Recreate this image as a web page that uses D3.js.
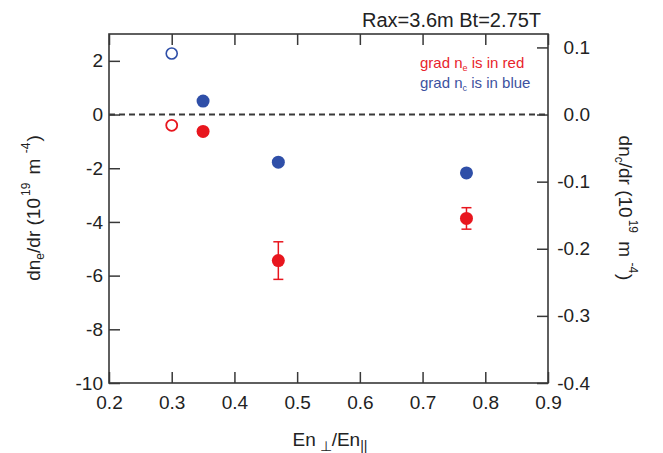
<!DOCTYPE html>
<html>
<head>
    <meta charset='utf-8'>
    <title> Density gradient vs En ratio </title>
    <script src='https://d3js.org/d3.v7.min.js'></script>
    <style>
      body { margin: 0; background: #fff; }
      text { font-family: "Liberation Sans", Arial, sans-serif; }
    </style>
</head>
<body>

<div id="container"></div>

<script>

const width = 663,
      height = 453,
      margin = {
          top: 34,
          bottom: 70,
          left: 109,
          right: 115,
      };

// x = En_perp / En_par
var enRatio = [0.30, 0.35, 0.47, 0.77];

// grad ne (left axis, 10^19 m^-4)
var gradNe = [-0.40, -0.63, -5.44, -3.87];
var gradNeErr = [0, 0.12, 0.70, 0.40];
var neOpen = [true, false, false, false];

// grad nc (right axis, 10^19 m^-4)
var gradNc = [0.091, 0.020, -0.071, -0.087];
var ncOpen = [true, false, false, false];

var xTicks = [0.2, 0.3, 0.4, 0.5, 0.6, 0.7, 0.8, 0.9];
var leftTicks = [-10, -8, -6, -4, -2, 0, 2];
var rightTicks = [-0.4, -0.3, -0.2, -0.1, 0.0, 0.1];

const red = "#e8161e",
      blue = "#2f4fa8",
      ink = "#383838";

var svg = d3.select("#container")
  .append("svg")
  .attr("width", width)
  .attr("height", height)
  .style("display", "block");

var x = d3.scaleLinear()
  .domain([0.2, 0.9])
  .range([margin.left, width - margin.right]);

var yL = d3.scaleLinear()
  .domain([-10, 3])
  .range([height - margin.bottom, margin.top]);

var yR = d3.scaleLinear()
  .domain([-0.4, 0.12])
  .range([height - margin.bottom, margin.top]);

function hyphen(fmt) {
  return function(d) { return d3.format(fmt)(d).replace("\u2212", "-"); };
}

// bottom axis, ticks inside
var gx = svg.append("g")
  .attr("transform", `translate(0, ${height - margin.bottom})`)
  .call(d3.axisBottom(x).tickValues(xTicks).tickSize(-11).tickPadding(13).tickFormat(hyphen(".1f")));

// top mirror ticks
var gt = svg.append("g")
  .attr("transform", `translate(0, ${margin.top})`)
  .call(d3.axisTop(x).tickValues(xTicks).tickSize(-11).tickFormat(""));

var gl = svg.append("g")
  .attr("transform", `translate(${margin.left}, 0)`)
  .call(d3.axisLeft(yL).tickValues(leftTicks).tickSize(-11).tickPadding(6).tickFormat(hyphen("d")));

var gr = svg.append("g")
  .attr("transform", `translate(${width - margin.right}, 0)`)
  .call(d3.axisRight(yR).tickValues(rightTicks).tickSize(-11).tickFormat(hyphen(".1f")));

gr.selectAll(".tick text")
  .attr("text-anchor", "end")
  .attr("x", 42);

[gx, gt, gl, gr].forEach(function(g) {
  g.select(".domain").remove();
  g.selectAll(".tick line").attr("stroke", ink).attr("stroke-width", 1.5);
  g.selectAll(".tick text")
    .attr("fill", "#222")
    .style("font-size", "19px")
    .style("font-family", "'Liberation Sans', Arial, sans-serif");
});

// frame
svg.append("rect")
  .attr("x", margin.left)
  .attr("y", margin.top)
  .attr("width", width - margin.left - margin.right)
  .attr("height", height - margin.top - margin.bottom)
  .attr("fill", "none")
  .attr("stroke", ink)
  .attr("stroke-width", 1.6);

// zero line
svg.append("line")
  .attr("x1", margin.left)
  .attr("x2", width - margin.right)
  .attr("y1", yL(0))
  .attr("y2", yL(0))
  .attr("stroke", ink)
  .attr("stroke-width", 2)
  .attr("stroke-dasharray", "6,4");

// ne error bars
var neData = enRatio.map(function(v, i) {
  return {x: v, y: gradNe[i], e: gradNeErr[i], open: neOpen[i]};
});

var eb = svg.selectAll(".err")
  .data(neData.filter(function(d) { return d.e > 0; }))
  .enter()
  .append("g")
  .attr("stroke", red)
  .attr("stroke-width", 1.5);

eb.append("line")
  .attr("x1", function(d) { return x(d.x); })
  .attr("x2", function(d) { return x(d.x); })
  .attr("y1", function(d) { return yL(d.y + d.e); })
  .attr("y2", function(d) { return yL(d.y - d.e); });

[1, -1].forEach(function(s) {
  eb.append("line")
    .attr("x1", function(d) { return x(d.x) - 5; })
    .attr("x2", function(d) { return x(d.x) + 5; })
    .attr("y1", function(d) { return yL(d.y + s * d.e); })
    .attr("y2", function(d) { return yL(d.y + s * d.e); });
});

svg.selectAll(".ne")
  .data(neData)
  .enter()
  .append("circle")
  .attr("cx", function(d) { return x(d.x); })
  .attr("cy", function(d) { return yL(d.y); })
  .attr("r", function(d) { return d.open ? 5.5 : 6.5; })
  .attr("fill", function(d) { return d.open ? "#fff" : red; })
  .attr("stroke", red)
  .attr("stroke-width", function(d) { return d.open ? 1.8 : 0; });

var ncData = enRatio.map(function(v, i) {
  return {x: v, y: gradNc[i], open: ncOpen[i]};
});

svg.selectAll(".nc")
  .data(ncData)
  .enter()
  .append("circle")
  .attr("cx", function(d) { return x(d.x); })
  .attr("cy", function(d) { return yR(d.y); })
  .attr("r", function(d) { return d.open ? 5.5 : 6.5; })
  .attr("fill", function(d) { return d.open ? "#fff" : blue; })
  .attr("stroke", blue)
  .attr("stroke-width", function(d) { return d.open ? 1.6 : 0; });

// title
svg.append("text")
  .attr("x", width - margin.right - 7)
  .attr("y", 27)
  .attr("text-anchor", "end")
  .style("font-size", "20px")
  .attr("fill", "#222")
  .text("Rax=3.6m Bt=2.75T");

// legend
function legendLine(y, sub, word, color) {
  var t = svg.append("text")
    .attr("x", 420)
    .attr("y", y)
    .attr("fill", color)
    .style("font-size", "15px");
  t.append("tspan").text("grad n");
  t.append("tspan").attr("dy", 3).style("font-size", "9px").text(sub);
  t.append("tspan").attr("dy", -3).text(" is in " + word);
}
legendLine(68, "e", "red", "#e8242c");
legendLine(88, "c", "blue", "#3d52a0");

// axis titles
function densityTitle(g, sub) {
  g.append("tspan").text("dn");
  g.append("tspan").attr("dy", 4).style("font-size", "12px").text(sub);
  g.append("tspan").attr("dy", -4).text("/dr  (10");
  g.append("tspan").attr("dy", -10).attr("dx", 2).style("font-size", "12px").text("19");
  g.append("tspan").attr("dy", 10).attr("dx", 3).text(" m");
  g.append("tspan").attr("dy", -10).attr("dx", 2).style("font-size", "12px").text(" -4");
  g.append("tspan").attr("dy", 10).attr("dx", 1).text(")");
}

var lt = svg.append("text")
  .attr("transform", `translate(40, 208) rotate(-90)`)
  .attr("text-anchor", "middle")
  .attr("fill", "#222")
  .style("font-size", "19px");
densityTitle(lt, "e");

var rt = svg.append("text")
  .attr("transform", `translate(619, 208) rotate(90)`)
  .attr("text-anchor", "middle")
  .attr("fill", "#222")
  .style("font-size", "19px");
densityTitle(rt, "c");

var xt = svg.append("text")
  .attr("x", 330)
  .attr("y", 446)
  .attr("text-anchor", "middle")
  .attr("fill", "#222")
  .style("font-size", "19px");
xt.append("tspan").text("En");
xt.append("tspan").attr("dy", 5).style("font-size", "14px").text(" \u22A5");
xt.append("tspan").attr("dy", -5).text("/En");
xt.append("tspan").attr("dy", 5).style("font-size", "14px").text("||");

</script>

</body>
</html>
